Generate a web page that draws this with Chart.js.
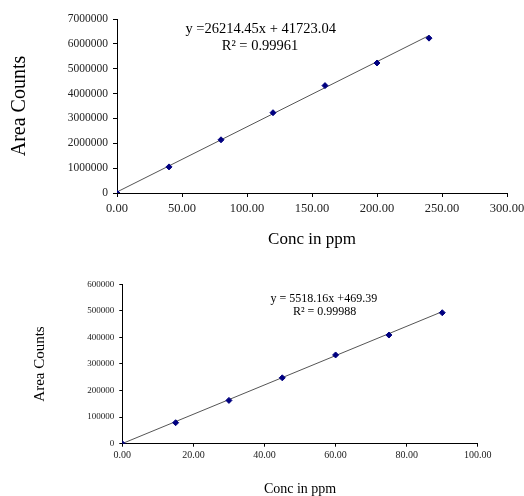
<!DOCTYPE html>
<html>
<head>
<meta charset="utf-8">
<script src="https://cdn.jsdelivr.net/npm/chart.js@4/dist/chart.umd.min.js"></script>
<style>
  html, body { margin: 0; padding: 0; background: #fff; }
  body { width: 524px; height: 496px; position: relative; overflow: hidden; }
  canvas { position: absolute; left: 0; }
  #c1 { top: 0; }
  #c2 { top: 250px; }
</style>
</head>
<body>
<canvas id="c1" width="524" height="250"></canvas>
<canvas id="c2" width="524" height="246"></canvas>
<script>
// ---- Chart 1 data ----
const topConc = [0, 40, 80, 120, 160, 200, 240];
const topArea = [0, 1050000, 2140000, 3230000, 4320000, 5230000, 6230000];
const topTrendConc = [0, 240];
const topTrendArea = [41723.04, 6333191.04];
const topXTickLabels = ['0.00', '50.00', '100.00', '150.00', '200.00', '250.00', '300.00'];
const topYTickLabels = ['0', '1000000', '2000000', '3000000', '4000000', '5000000', '6000000', '7000000'];
const topEquation = 'y =26214.45x + 41723.04';
const topR2 = 'R\u00B2 = 0.99961';

// ---- Chart 2 data ----
const botConc = [0, 15, 30, 45, 60, 75, 90];
const botArea = [0, 79000, 163000, 248000, 334000, 409000, 493000];
const botTrendConc = [0, 90];
const botTrendArea = [469.39, 497103.79];
const botXTickLabels = ['0.00', '20.00', '40.00', '60.00', '80.00', '100.00'];
const botYTickLabels = ['0', '100000', '200000', '300000', '400000', '500000', '600000'];
const botEquation = 'y = 5518.16x +469.39';
const botR2 = 'R\u00B2 = 0.99988';

const SERIF = '"Liberation Serif", "Times New Roman", serif';

function pts(xs, ys) { return xs.map((x, i) => ({ x: x, y: ys[i] })); }

const equationPlugin = {
  id: 'equation',
  afterDatasetsDraw(chart, args, opts) {
    const ctx = chart.ctx;
    const xs = chart.scales.x, ys = chart.scales.y;
    ctx.save();
    ctx.fillStyle = '#000';
    ctx.textAlign = 'center';
    ctx.textBaseline = 'middle';
    ctx.font = opts.size + 'px ' + SERIF;
    opts.lines.forEach(l => {
      ctx.fillText(l.text, xs.getPixelForValue(l.x), ys.getPixelForValue(l.y));
    });
    ctx.restore();
  }
};

function makeChart(id, cfg) {
  const axisCommon = (fontSize, tickLen, pad) => ({
    type: 'linear',
    grid: { display: true, drawOnChartArea: false, drawTicks: true, tickLength: tickLen, color: '#000', lineWidth: 1 },
    border: { display: true, color: '#000', width: 1 },
    ticks: { color: '#222', font: { family: SERIF, size: fontSize }, padding: pad, autoSkip: false, maxRotation: 0 }
  });
  const xAxis = axisCommon(cfg.xTickSize, cfg.tickLen, cfg.xPad);
  Object.assign(xAxis, {
    min: cfg.xMin, max: cfg.xMax,
    afterFit: s => { s.height = cfg.xHeight; s.paddingRight = 0; s.paddingLeft = 0; },
    title: { display: true, text: 'Conc in ppm', color: '#000', font: { family: SERIF, size: cfg.xTitleSize, lineHeight: cfg.xTitleLH }, padding: { top: 0, bottom: 0 } }
  });
  xAxis.ticks.stepSize = cfg.xStep;
  xAxis.ticks.callback = (v, i) => cfg.xLabels[i];
  const yAxis = axisCommon(cfg.yTickSize, cfg.tickLen, cfg.yPad);
  Object.assign(yAxis, {
    min: cfg.yMin, max: cfg.yMax,
    afterFit: s => { s.width = cfg.yWidth; s.paddingTop = 0; s.paddingBottom = 0; },
    title: { display: true, text: 'Area Counts', color: '#000', font: { family: SERIF, size: cfg.yTitleSize, lineHeight: 1.2 }, padding: { top: cfg.yTitlePad, bottom: 0 } }
  });
  yAxis.ticks.stepSize = cfg.yStep;
  yAxis.ticks.callback = (v, i) => cfg.yLabels[i];

  return new Chart(document.getElementById(id), {
    type: 'scatter',
    data: {
      datasets: [
        {
          label: 'Trend',
          data: pts(cfg.trendX, cfg.trendY),
          showLine: true,
          borderColor: '#555',
          borderWidth: 1,
          pointRadius: 0,
          order: 2
        },
        {
          label: 'Data',
          data: pts(cfg.x, cfg.y),
          pointStyle: 'rectRot',
          pointRadius: 3,
          backgroundColor: '#000080',
          borderColor: '#000080',
          borderWidth: 1,
          order: 1
        }
      ]
    },
    options: {
      responsive: false,
      animation: false,
      devicePixelRatio: 1,
      layout: { padding: cfg.padding },
      plugins: {
        legend: { display: false },
        tooltip: { enabled: false },
        equation: { size: cfg.eqSize, lines: cfg.eqLines }
      },
      scales: { x: xAxis, y: yAxis }
    },
    plugins: [equationPlugin]
  });
}

makeChart('c1', {
  x: topConc, y: topArea, trendX: topTrendConc, trendY: topTrendArea,
  xMin: 0, xMax: 300, xStep: 50, xLabels: topXTickLabels,
  yMin: 0, yMax: 7000000, yStep: 1000000, yLabels: topYTickLabels,
  xTickSize: 12.5, yTickSize: 11.5, tickLen: 4, xPad: 4, yPad: 5,
  xHeight: 57, yWidth: 117,
  xTitleSize: 17, xTitleLH: 1.2, yTitleSize: 20, yTitlePad: 8,
  padding: { top: 19, right: 17, bottom: 0, left: 0 },
  eqSize: 14.5,
  eqLines: [
    { text: topEquation, x: 110.5, y: 6600000 },
    { text: topR2, x: 110, y: 5910000 }
  ]
});

makeChart('c2', {
  x: botConc, y: botArea, trendX: botTrendConc, trendY: botTrendArea,
  xMin: 0, xMax: 100, xStep: 20, xLabels: botXTickLabels,
  yMin: 0, yMax: 600000, yStep: 100000, yLabels: botYTickLabels,
  xTickSize: 10, yTickSize: 9, tickLen: 3, xPad: 3, yPad: 5,
  xHeight: 52.3, yWidth: 122.3,
  xTitleSize: 14, xTitleLH: 1, yTitleSize: 15, yTitlePad: 31,
  padding: { top: 34.3, right: 46.2, bottom: 0, left: 0 },
  eqSize: 12,
  eqLines: [
    { text: botEquation, x: 56.7, y: 545000 },
    { text: botR2, x: 56.9, y: 496000 }
  ]
});
</script>
</body>
</html>
